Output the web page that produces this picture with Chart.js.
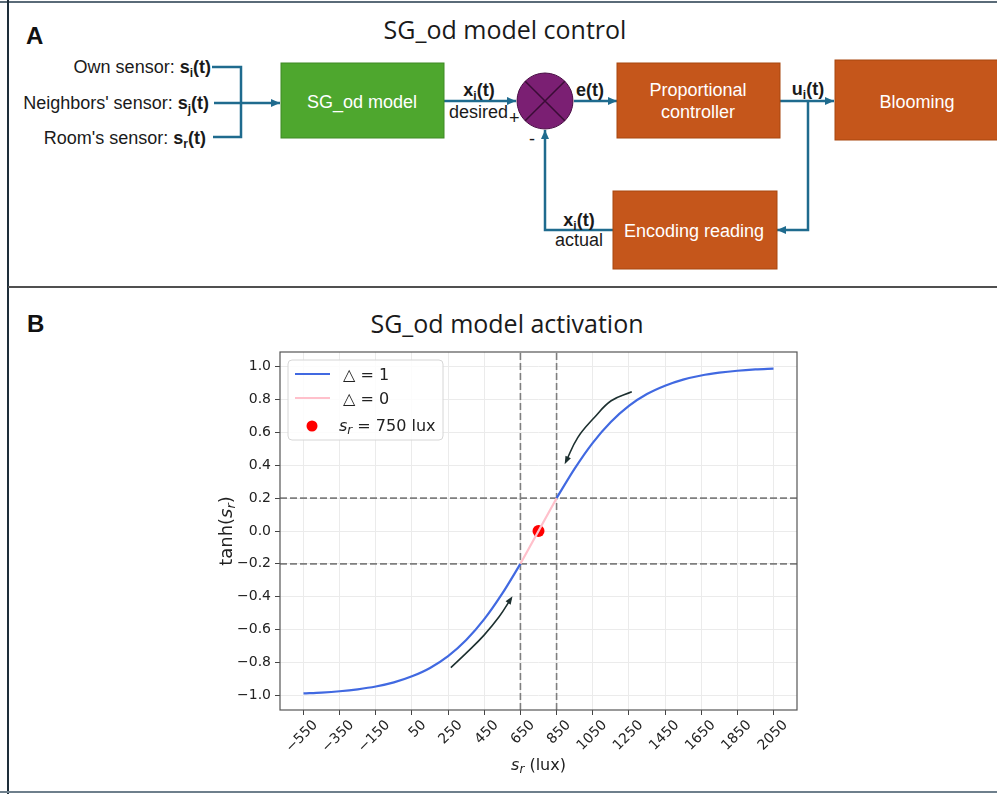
<!DOCTYPE html>
<html lang="en">
<head>
<meta charset="UTF-8">
<title>SG_od model</title>
<style>
  body { margin: 0; background: #fff; }
  #wrap { position: relative; width: 997px; height: 794px; background: #fff; overflow: hidden; }
  #diagram { position: absolute; left: 0; top: 0; }
  #chart { position: absolute; left: 0; top: 289px; }
  .lbl { font-family: "Liberation Sans", Arial, sans-serif; font-size: 18px; fill: #1a1a1a; }
  .box { font-family: "Liberation Sans", Arial, sans-serif; font-size: 18px; fill: #fff; }
  .ttl { font-family: "Open Sans", sans-serif; font-size: 25px; fill: #1a1a1a; }
  .pan { font-family: "Liberation Sans", Arial, sans-serif; font-size: 24px; font-weight: bold; fill: #111; }
</style>
</head>
<body>
<div id="wrap">
<svg id="diagram" width="997" height="794">
  <defs>
    <marker id="ah" markerWidth="9" markerHeight="8" refX="9" refY="4" orient="auto" markerUnits="userSpaceOnUse">
      <path d="M0,0 L9,4 L0,8 z" fill="#1f6b8e"/>
    </marker>
  </defs>
  <!-- frame -->
  <line x1="0" y1="2" x2="997" y2="2" stroke="#5a6b78" stroke-width="2"/>
  <line x1="8" y1="0" x2="8" y2="794" stroke="#1e2e3a" stroke-width="2"/>
  <line x1="8" y1="287" x2="997" y2="287" stroke="#505050" stroke-width="2"/>
  <line x1="0" y1="792" x2="997" y2="792" stroke="#6e7f8c" stroke-width="2"/>

  <!-- panel A -->
  <text class="pan" x="26" y="44">A</text>
  <text class="ttl" x="505" y="39" text-anchor="middle">SG_od model control</text>

  <text class="lbl" x="211" y="73" text-anchor="end">Own sensor: <tspan font-weight="bold">s<tspan font-size="12" dy="4">i</tspan><tspan dy="-4">(t)</tspan></tspan></text>
  <text class="lbl" x="209" y="109" text-anchor="end">Neighbors' sensor: <tspan font-weight="bold">s<tspan font-size="12" dy="4">j</tspan><tspan dy="-4">(t)</tspan></tspan></text>
  <text class="lbl" x="206" y="144" text-anchor="end">Room's sensor: <tspan font-weight="bold">s<tspan font-size="12" dy="4">r</tspan><tspan dy="-4">(t)</tspan></tspan></text>

  <g stroke="#1f6b8e" stroke-width="2.5" fill="none">
    <path d="M212 67 H241 V137 H213"/>
    <path d="M214 103 H280" marker-end="url(#ah)"/>
    <path d="M444 101 H516" marker-end="url(#ah)"/>
    <path d="M574 101 H617" marker-end="url(#ah)"/>
    <path d="M780 101 H834" marker-end="url(#ah)"/>
    <path d="M808 101 V230 H777" marker-end="url(#ah)"/>
    <path d="M613 230 H545 V130" marker-end="url(#ah)"/>
  </g>

  <rect x="281" y="63" width="163" height="75" fill="#4ea72e" stroke="#3f8a24" stroke-width="1"/>
  <text class="box" x="362" y="108" text-anchor="middle">SG_od model</text>

  <circle cx="545" cy="101" r="28" fill="#7b1f73" stroke="#4a1046" stroke-width="1"/>
  <path d="M525.2 81.2 L564.8 120.8 M564.8 81.2 L525.2 120.8" stroke="#3a0c36" stroke-width="1.5"/>

  <rect x="617" y="63" width="163" height="75" fill="#c5561b" stroke="#a8460f" stroke-width="1"/>
  <text class="box" x="698" y="96" text-anchor="middle">Proportional</text>
  <text class="box" x="698" y="118" text-anchor="middle">controller</text>

  <rect x="835" y="60" width="170" height="80" fill="#c5561b" stroke="#a8460f" stroke-width="1"/>
  <text class="box" x="917" y="108" text-anchor="middle">Blooming</text>

  <rect x="613" y="191" width="164" height="78" fill="#c5561b" stroke="#a8460f" stroke-width="1"/>
  <text class="box" x="694" y="237" text-anchor="middle">Encoding reading</text>

  <text class="lbl" x="479" y="96" text-anchor="middle" font-weight="bold">x<tspan font-size="12" dy="4">i</tspan><tspan dy="-4">(t)</tspan></text>
  <text class="lbl" x="449" y="118">desired</text>
  <text class="lbl" x="509" y="124" font-size="13">+</text>
  <text class="lbl" x="590" y="96" text-anchor="middle" font-weight="bold">e(t)</text>
  <text class="lbl" x="808" y="95" text-anchor="middle" font-weight="bold">u<tspan font-size="12" dy="4">i</tspan><tspan dy="-4">(t)</tspan></text>
  <text class="lbl" x="529" y="145" font-size="14">-</text>
  <text class="lbl" x="579" y="226" text-anchor="middle" font-weight="bold">x<tspan font-size="12" dy="4">i</tspan><tspan dy="-4">(t)</tspan></text>
  <text class="lbl" x="579" y="246" text-anchor="middle">actual</text>

  <!-- panel B -->
  <text class="pan" x="27" y="332">B</text>
  <text class="ttl" x="507" y="333" text-anchor="middle">SG_od model activation</text>
</svg>
<canvas id="chart" width="997" height="503"></canvas>
</div>

<script src="https://cdn.jsdelivr.net/npm/chart.js"></script>
<script>
  // curve: sr (lux) vs tanh(sr)
  const lowX  = [-550, -450, -350, -250, -150, -50, 50, 150, 250, 350, 450, 550, 650];
  const lowY  = [-0.989, -0.984, -0.976, -0.964, -0.947, -0.922, -0.885, -0.834, -0.762, -0.664, -0.537, -0.38, -0.2];
  const midX  = [650, 750, 850];
  const midY  = [-0.2, 0, 0.2];
  const highX = [850, 950, 1050, 1150, 1250, 1350, 1450, 1550, 1650, 1750, 1850, 1950, 2050];
  const highY = [0.2, 0.38, 0.537, 0.664, 0.762, 0.834, 0.885, 0.922, 0.947, 0.964, 0.976, 0.984, 0.989];

  // marked operating point
  const pointX = [750];
  const pointY = [0];

  // threshold lines
  const vLines = [650, 850];
  const hLines = [0.2, -0.2];

  // the two curved arrows
  const arrowDownX = [1266, 1152, 1059, 967, 902];
  const arrowDownY = [0.848, 0.793, 0.691, 0.569, 0.423];
  const arrowUpX = [265, 357, 449, 533, 597];
  const arrowUpY = [-0.832, -0.736, -0.634, -0.521, -0.413];

  // axes
  const xTicks = [-550, -350, -150, 50, 250, 450, 650, 850, 1050, 1250, 1450, 1650, 1850, 2050];
  const yTicks = [-1.0, -0.8, -0.6, -0.4, -0.2, 0.0, 0.2, 0.4, 0.6, 0.8, 1.0];
  const xMin = -680, xMax = 2180, yMin = -1.09, yMax = 1.09;

  const FONT = '"DejaVu Sans", sans-serif';

  function pts(xs, ys) {
    return xs.map((x, i) => ({x: x, y: ys[i]}));
  }

  function minus(s) {
    return String(s).replace('-', '\u2212');
  }

  // draw a run of text pieces with their own fonts (for subscripts)
  function drawParts(ctx, parts, x, y, align) {
    let w = 0;
    parts.forEach(p => { ctx.font = p.f; p.w = ctx.measureText(p.t).width; w += p.w; });
    let cx = align === 'center' ? x - w / 2 : x;
    ctx.textAlign = 'left';
    ctx.textBaseline = 'alphabetic';
    parts.forEach(p => { ctx.font = p.f; ctx.fillText(p.t, cx, y + (p.dy || 0)); cx += p.w; });
  }

  const datasets = [];
  vLines.forEach(v => datasets.push({
    data: [{x: v, y: yMin}, {x: v, y: yMax}],
    borderColor: '#7f7f7f', borderWidth: 1.6, borderDash: [7, 3], pointRadius: 0, order: 10
  }));
  hLines.forEach(h => datasets.push({
    data: [{x: xMin, y: h}, {x: xMax, y: h}],
    borderColor: '#7f7f7f', borderWidth: 1.6, borderDash: [7, 3], pointRadius: 0, order: 10
  }));
  datasets.push({
    label: 'blue low', data: pts(lowX, lowY), borderColor: '#4169e1', borderWidth: 2.2,
    pointRadius: 0, cubicInterpolationMode: 'monotone', order: 5
  });
  datasets.push({
    label: 'blue high', data: pts(highX, highY), borderColor: '#4169e1', borderWidth: 2.2,
    pointRadius: 0, cubicInterpolationMode: 'monotone', order: 5
  });
  datasets.push({
    label: 'point', data: pts(pointX, pointY), showLine: false, pointRadius: 6,
    pointBackgroundColor: '#ff0000', pointBorderWidth: 0, order: 4
  });
  datasets.push({
    label: 'pink', data: pts(midX, midY), borderColor: '#ffc0cb', borderWidth: 2.2,
    pointRadius: 0, order: 3
  });
  datasets.push({
    label: 'arrow', arrow: true, data: pts(arrowDownX, arrowDownY), borderColor: '#1d3030',
    borderWidth: 1.6, pointRadius: 0, tension: 0.4, order: 2
  });
  datasets.push({
    label: 'arrow', arrow: true, data: pts(arrowUpX, arrowUpY), borderColor: '#1d3030',
    borderWidth: 1.6, pointRadius: 0, tension: 0.4, order: 2
  });

  const extras = {
    id: 'extras',
    afterDatasetsDraw(chart) {
      const ctx = chart.ctx;
      chart.data.datasets.forEach((ds, i) => {
        if (!ds.arrow) return;
        const els = chart.getDatasetMeta(i).data;
        const p1 = els[els.length - 2], p2 = els[els.length - 1];
        const ang = Math.atan2(p2.y - p1.y, p2.x - p1.x);
        ctx.save();
        ctx.translate(p2.x, p2.y);
        ctx.rotate(ang);
        ctx.fillStyle = ds.borderColor;
        ctx.beginPath();
        ctx.moveTo(3, 0);
        ctx.lineTo(-5, -3);
        ctx.lineTo(-5, 3);
        ctx.closePath();
        ctx.fill();
        ctx.restore();
      });
    },
    afterDraw(chart) {
      const ctx = chart.ctx;
      const a = chart.chartArea;
      ctx.save();
      // axes frame
      ctx.strokeStyle = '#555';
      ctx.lineWidth = 1.2;
      ctx.strokeRect(a.left, a.top, a.right - a.left, a.bottom - a.top);

      // legend
      const lx = a.left + 8, ly = a.top + 8, lw = 155, lh = 80;
      ctx.fillStyle = 'rgba(255,255,255,0.85)';
      ctx.strokeStyle = '#d6d6d6';
      ctx.lineWidth = 1;
      ctx.beginPath();
      ctx.roundRect(lx, ly, lw, lh, 4);
      ctx.fill();
      ctx.stroke();

      ctx.lineWidth = 2.2;
      ctx.strokeStyle = '#4169e1';
      ctx.beginPath(); ctx.moveTo(lx + 7, ly + 14); ctx.lineTo(lx + 42, ly + 14); ctx.stroke();
      ctx.strokeStyle = '#ffc0cb';
      ctx.beginPath(); ctx.moveTo(lx + 7, ly + 38); ctx.lineTo(lx + 42, ly + 38); ctx.stroke();
      ctx.fillStyle = '#ff0000';
      ctx.beginPath(); ctx.arc(lx + 24, ly + 66, 5.5, 0, Math.PI * 2); ctx.fill();

      ctx.fillStyle = '#222';
      const f = '16px ' + FONT, fi = 'italic 16px ' + FONT, fs = 'italic 12px ' + FONT;
      drawParts(ctx, [{t: '\u25B3 = 1', f: f}], lx + 55, ly + 20, 'left');
      drawParts(ctx, [{t: '\u25B3 = 0', f: f}], lx + 55, ly + 44, 'left');
      drawParts(ctx, [{t: 's', f: fi}, {t: 'r', f: fs, dy: 3}, {t: ' = 750 lux', f: f}], lx + 51, ly + 71, 'left');

      // axis titles
      const g = '16px ' + FONT, gi = 'italic 16px ' + FONT, gs = 'italic 12px ' + FONT;
      drawParts(ctx, [{t: 's', f: gi}, {t: 'r', f: gs, dy: 3}, {t: ' (lux)', f: g}],
        (a.left + a.right) / 2, a.bottom + 60, 'center');
      const h = '18px ' + FONT, hi = 'italic 18px ' + FONT, hs = 'italic 13px ' + FONT;
      ctx.translate(a.left - 48, (a.top + a.bottom) / 2);
      ctx.rotate(-Math.PI / 2);
      drawParts(ctx, [{t: 'tanh(', f: h}, {t: 's', f: hi}, {t: 'r', f: hs, dy: 3}, {t: ')', f: h}], 0, 0, 'center');
      ctx.restore();
    }
  };

  new Chart(document.getElementById('chart'), {
    type: 'line',
    data: {datasets: datasets},
    options: {
      responsive: false,
      animation: false,
      events: [],
      layout: {padding: {top: 63, right: 200, bottom: 32, left: 230}},
      plugins: {legend: {display: false}, tooltip: {enabled: false}, title: {display: false}},
      scales: {
        x: {
          type: 'linear', min: xMin, max: xMax,
          afterBuildTicks: axis => { axis.ticks = xTicks.map(v => ({value: v})); },
          afterFit: axis => { axis.height = 50; },
          border: {display: false},
          grid: {color: '#ebebeb', lineWidth: 1, tickLength: 5, tickColor: '#444'},
          ticks: {
            autoSkip: false, minRotation: 45, maxRotation: 45, labelOffset: 12, padding: 2,
            color: '#222', font: {family: FONT, size: 14},
            callback: v => minus(v)
          }
        },
        y: {
          type: 'linear', min: yMin, max: yMax,
          afterBuildTicks: axis => { axis.ticks = yTicks.map(v => ({value: v})); },
          afterFit: axis => { axis.width = 50; },
          border: {display: false},
          grid: {color: '#ebebeb', lineWidth: 1, tickLength: 5, tickColor: '#444'},
          ticks: {
            padding: 4, color: '#222', font: {family: FONT, size: 14},
            callback: v => minus(v.toFixed(1))
          }
        }
      }
    },
    plugins: [extras]
  });
</script>
</body>
</html>
